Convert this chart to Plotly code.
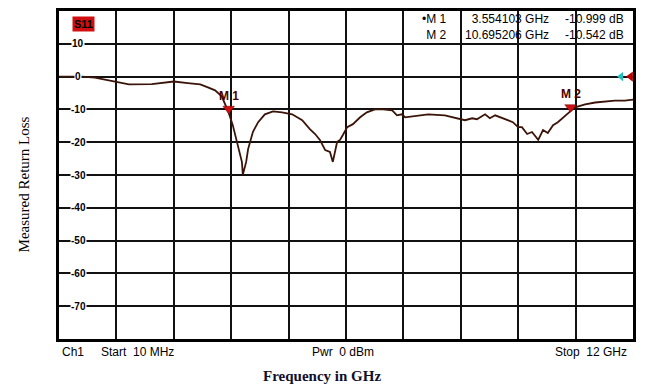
import plotly.graph_objects as go

# Data
freq_ghz = [0.01, 0.49, 0.76, 1.18, 1.47, 1.95, 2.41, 2.70, 2.96, 3.12, 3.27, 3.41, 3.554,
            3.64, 3.75, 3.83, 3.85, 3.92, 3.96, 4.06, 4.17, 4.31, 4.48, 4.67, 4.88, 5.09,
            5.25, 5.36, 5.46, 5.57, 5.67, 5.73, 5.82, 5.88, 5.94, 6.03, 6.15, 6.30, 6.44,
            6.61, 6.78, 6.97, 7.07, 7.17, 7.24, 7.45, 7.72, 8.07, 8.39, 8.49, 8.64, 8.74,
            8.91, 9.01, 9.12, 9.28, 9.49, 9.60, 9.68, 9.79, 9.89, 10.02, 10.12, 10.22,
            10.33, 10.43, 10.54, 10.695, 10.79, 11.00, 11.21, 11.42, 11.62, 11.83, 12.00]
s11_db = [0.0, 0.0, -0.3, -1.5, -2.4, -2.3, -1.5, -2.0, -2.4, -3.3, -4.2, -6.0, -10.999,
          -14.8, -20.8, -26.0, -29.9, -26.0, -22.1, -16.9, -13.9, -11.5, -10.6, -10.9, -11.5, -13.3,
          -16.0, -17.5, -19.3, -22.4, -23.0, -26.0, -19.9, -19.3, -17.8, -15.4, -14.5, -12.4, -10.9,
          -10.0, -10.0, -10.3, -11.8, -11.5, -12.4, -12.1, -11.5, -11.8, -13.0, -13.3, -12.7, -13.0,
          -11.5, -12.7, -11.8, -12.7, -13.9, -15.4, -15.4, -17.5, -16.9, -19.3, -16.3, -17.2,
          -14.8, -13.9, -12.4, -10.542, -9.4, -8.5, -7.9, -7.6, -7.3, -7.3, -7.0]

marker_names = ["M 1", "M 2"]
marker_freq = [3.554103, 10.695206]
marker_db = [-10.999, -10.542]

y_ticks = [10, 0, -10, -20, -30, -40, -50, -60, -70]
f_start, f_stop = 0.01, 12.0
y_min, y_max = -80, 20

fig = go.Figure()

fig.add_trace(go.Scatter(x=freq_ghz, y=s11_db, mode="lines",
                         line=dict(color="#3a1408", width=1.8), showlegend=False,
                         hoverinfo="skip"))

# Marker triangles (tip on trace)
fig.add_trace(go.Scatter(x=marker_freq, y=[d + 1.2 for d in marker_db], mode="markers",
                         marker=dict(symbol="triangle-down", size=10, color="#d01010",
                                     line=dict(color="#700000", width=0.5)),
                         showlegend=False, hoverinfo="skip", cliponaxis=False))

# Reference-level indicator at right edge
fig.add_trace(go.Scatter(x=[f_stop - 0.25], y=[0], mode="markers",
                         marker=dict(symbol="triangle-left", size=8, color="#20c0c0"),
                         showlegend=False, hoverinfo="skip", cliponaxis=False))
fig.add_trace(go.Scatter(x=[f_stop - 0.05], y=[0], mode="markers",
                         marker=dict(symbol="triangle-left", size=9, color="#c00000"),
                         showlegend=False, hoverinfo="skip", cliponaxis=False))

step = (f_stop - f_start) / 10
x_grid = [f_start + k * step for k in range(11)]

fig.update_xaxes(range=[f_start, f_stop], tickvals=x_grid, showticklabels=False,
                 showgrid=True, gridcolor="#111", gridwidth=1.8, zeroline=False,
                 showline=True, linecolor="#000", linewidth=2.5, mirror=True, ticks="")
fig.update_yaxes(range=[y_min, y_max], tickvals=list(range(y_min, y_max + 1, 10)),
                 showticklabels=False, showgrid=True, gridcolor="#111", gridwidth=1.8,
                 zeroline=False, showline=True, linecolor="#000", linewidth=2.5,
                 mirror=True, ticks="")

PX_L, PX_W, PX_B, PX_H = 59, 574, 339, 331


def px_x(px):
    return (px - PX_L) / PX_W


def px_y(py):
    return (PX_B - py) / PX_H


ann = []
# y tick labels inside plot
for v in y_ticks:
    ann.append(dict(x=px_x(78), xref="paper", y=v, yref="y", text=f"<b>{v}</b>",
                    showarrow=False, font=dict(family="Liberation Sans", size=10, color="#000"),
                    bgcolor="white", borderpad=0, xanchor="center", yanchor="middle"))
# marker labels
for name, f, d in zip(marker_names, marker_freq, marker_db):
    ann.append(dict(x=f, y=d, xref="x", yref="y", text=f"<b>{name}</b>", showarrow=False,
                    yshift=17, font=dict(family="Liberation Sans", size=12, color="#4a0000")))
# S11 badge
ann.append(dict(x=px_x(83), xref="paper", y=px_y(21.5), yref="paper",
                text="<b>S11</b>", showarrow=False, bgcolor="#d01010", borderpad=1,
                xanchor="center", yanchor="middle",
                font=dict(family="Liberation Sans", size=11, color="#000")))
# marker readout (three right-aligned columns)
col1 = "•M 1<br>M 2"
col2 = f"{marker_freq[0]:.6f} GHz<br>{marker_freq[1]:.6f} GHz"
col3 = f"{marker_db[0]:.3f} dB<br>{marker_db[1]:.3f} dB"
for txt, px in [(col1, 449), (col2, 551), (col3, 626)]:
    ann.append(dict(x=px_x(px), xref="paper", y=px_y(24.5), yref="paper", text=txt,
                    showarrow=False, xanchor="right", yanchor="middle", align="right",
                    font=dict(family="Liberation Sans", size=12, color="#000")))
# footer texts
foot = [("Ch1", 60), ("Start&nbsp;&nbsp;10 MHz", 99), ("Pwr&nbsp;&nbsp;0 dBm", 310),
        ("Stop&nbsp;&nbsp;12 GHz", 553)]
for t, px in foot:
    ann.append(dict(x=px_x(px), xref="paper", y=px_y(352), yref="paper",
                    text=t, showarrow=False, xanchor="left", yanchor="middle",
                    font=dict(family="Liberation Sans", size=12, color="#000")))
# axis titles
ann.append(dict(x=px_x(322), xref="paper", y=px_y(376), yref="paper",
                text="<b>Frequency in GHz</b>", showarrow=False, yanchor="middle",
                font=dict(family="Liberation Serif", size=15, color="#10102a")))
ann.append(dict(x=px_x(24), xref="paper", y=px_y(183), yref="paper",
                text="Measured Return Loss", showarrow=False, textangle=-90,
                xanchor="center", yanchor="middle",
                font=dict(family="Liberation Serif", size=15, color="#000")))

fig.update_layout(width=648, height=385, margin=dict(l=59, r=15, t=8, b=46),
                  plot_bgcolor="white", paper_bgcolor="white", annotations=ann,
                  showlegend=False)

fig.write_html("out.html")
